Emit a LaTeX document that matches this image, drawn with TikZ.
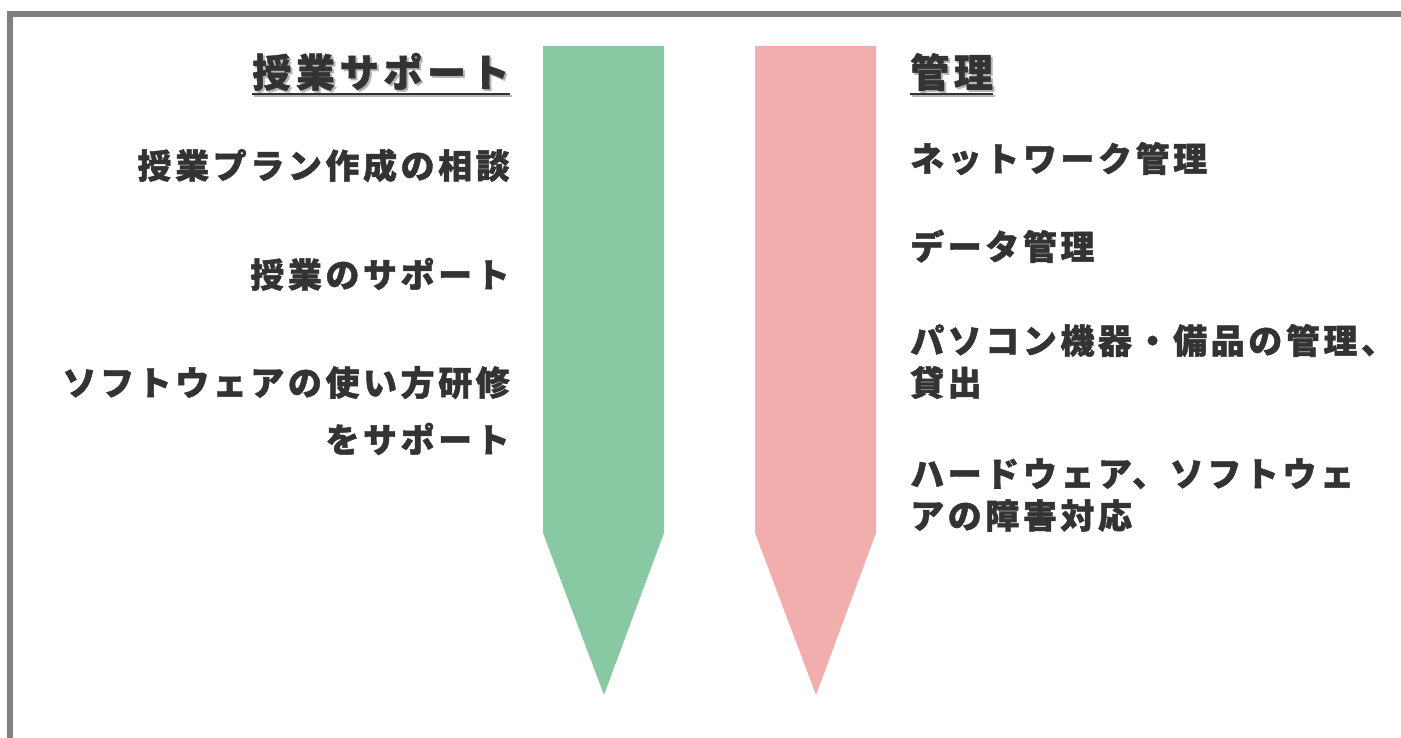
\documentclass[tikz,border=0pt]{standalone}
\usepackage{fontspec}
\setmainfont{Noto Sans CJK JP}
\definecolor{txt}{HTML}{333333}
\definecolor{shadowc}{HTML}{B4B4B4}
\definecolor{framec}{HTML}{808080}
\definecolor{greenc}{HTML}{88C8A2}
\definecolor{pinkc}{HTML}{F2ADAD}
\newcommand\itemfont{\fontsize{34}{40}\selectfont\bfseries\addfontfeatures{LetterSpace=10.5,FakeBold=1.3}}
\newcommand\headfont{\fontsize{39}{44}\selectfont\bfseries\addfontfeatures{LetterSpace=12,FakeBold=1.3}}
\tikzset{
  item/.style={font=\itemfont, text=txt, inner sep=0pt},
  lefttxt/.style={item, anchor=base east},
  righttxt/.style={item, anchor=base west},
  head/.style={font=\headfont, text=txt, inner sep=0pt},
  headshadow/.style={head, text=shadowc},
  uline/.style={line width=2.2pt, draw=txt},
  ulineshadow/.style={line width=2.2pt, draw=shadowc},
  framestyle/.style={draw=framec, line width=6pt},
}
\begin{document}
\begin{tikzpicture}[x=1pt,y=-1pt]
\useasboundingbox (0,0) rectangle (1401,738);
% frame (cut off at right and bottom)
\draw[framestyle] (10,760) -- (10,14) -- (1420,14);
% arrows
\fill[greenc] (543,46) -- (664,46) -- (664,533) -- (604,695) -- (543,533) -- cycle;
\fill[pinkc] (755,46) -- (876,46) -- (876,533) -- (816,695) -- (755,533) -- cycle;
% headings
\node[headshadow, anchor=base east] (h1s) at (512,89) {授業サポート};
\node[head, anchor=base east] (h1) at (510,87) {授業サポート};
\node[headshadow, anchor=base west] (h2s) at (912,89) {管理};
\node[head, anchor=base west] (h2) at (910,87) {管理};
\draw[ulineshadow] ([shift={(1.5,9)}]h1.base west) -- ([shift={(1.5,9)}]h1.base east);
\draw[uline] ([shift={(0,7)}]h1.base west) -- ([shift={(0,7)}]h1.base east);
\draw[ulineshadow] ([shift={(1.5,9)}]h2.base west) -- ([shift={(1.5,9)}]h2.base east);
\draw[uline] ([shift={(0,7)}]h2.base west) -- ([shift={(0,7)}]h2.base east);
% left items
\node[lefttxt] (l1) at (510,178.5) {授業プラン作成の相談};
\node[lefttxt] (l2) at (510,287.5) {授業のサポート};
\node[lefttxt] (l3a) at (510,395.5) {ソフトウェアの使い方研修};
\node[lefttxt] (l3b) at (510,452.5) {をサポート};
% right items
\node[righttxt] (r1) at (910,171.5) {ネットワーク管理};
\node[righttxt] (r2) at (910,259.5) {データ管理};
\node[righttxt] (r3a) at (910,353.5) {パソコン機器・備品の管理、};
\node[righttxt] (r3b) at (910,395.5) {貸出};
\node[righttxt] (r4a) at (910,486.5) {ハードウェア、ソフトウェ};
\node[righttxt] (r4b) at (910,528.5) {アの障害対応};
\end{tikzpicture}
\end{document}
